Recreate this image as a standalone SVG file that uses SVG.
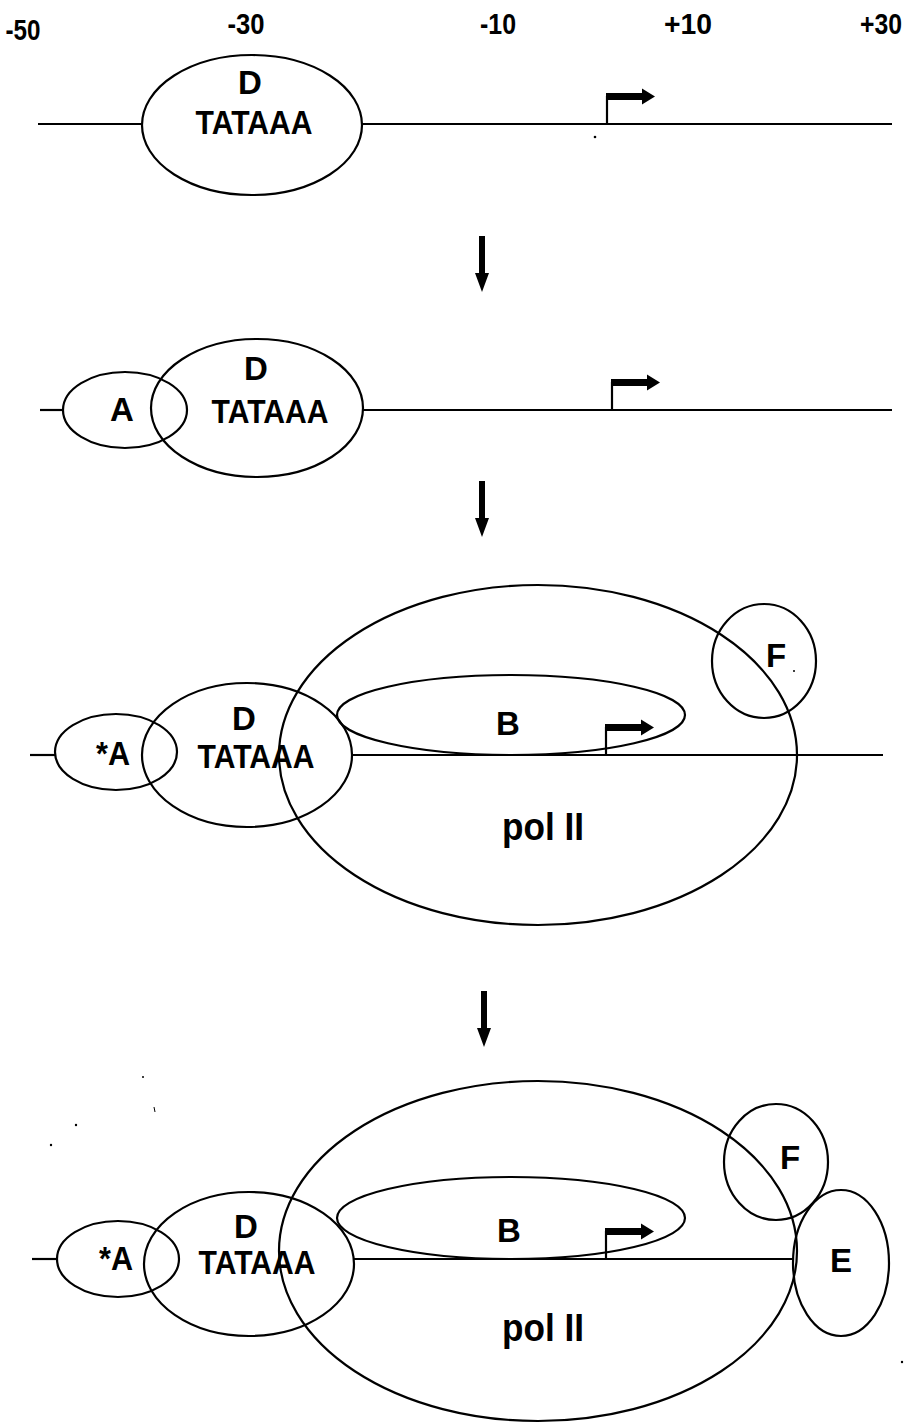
<svg xmlns="http://www.w3.org/2000/svg" xmlns:xlink="http://www.w3.org/1999/xlink" width="909" height="1425" viewBox="0 0 909 1425">
  <style>
    .bg { fill: #ffffff; }
    .dna { stroke: #000; stroke-width: 2.2; fill: none; }
    .factor { stroke: #000; stroke-width: 2.2; fill: none; }
    .lbl { font-family: "Liberation Sans", Arial, sans-serif; font-weight: bold; font-size: 33px; fill: #000; text-anchor: middle; }
    .tata { font-size: 34px; }
    .pol { font-size: 38px; }
    .pos { font-family: "Liberation Sans", Arial, sans-serif; font-weight: bold; font-size: 30px; fill: #000; text-anchor: middle; }
    .speck { fill: #000; }
  </style>
  <defs>
    <!-- transcription start site: bent arrow, origin at the base of the stem -->
    <g id="tss">
      <line x1="0" y1="0" x2="0" y2="-28" stroke="#000" stroke-width="2.2"/>
      <polygon points="-1,-31 35,-31 35,-35.5 48,-27.5 35,-19.5 35,-24 -1,-24" fill="#000"/>
    </g>
    <!-- step arrow, origin at the tip -->
    <polygon id="step" points="-3,-56 3,-56 3,-19 7,-19 0,0 -7,-19 -3,-19" fill="#000"/>
  </defs>

  <rect class="bg" x="0" y="0" width="909" height="1425"/>

  <!-- position scale -->
  <g id="scale">
    <text class="pos" x="23" y="40" textLength="35" lengthAdjust="spacingAndGlyphs">-50</text>
    <text class="pos" x="246" y="34" textLength="37" lengthAdjust="spacingAndGlyphs">-30</text>
    <text class="pos" x="498" y="34" textLength="36" lengthAdjust="spacingAndGlyphs">-10</text>
    <text class="pos" x="688" y="34" textLength="48" lengthAdjust="spacingAndGlyphs">+10</text>
    <text class="pos" x="881" y="34" textLength="42" lengthAdjust="spacingAndGlyphs">+30</text>
  </g>

  <!-- DNA strands, start-site arrows and step arrows -->
  <g id="connectors">
    <line class="dna" x1="38" y1="124" x2="142" y2="124"/>
    <line class="dna" x1="362" y1="124" x2="892" y2="124"/>
    <use xlink:href="#tss" x="607" y="124"/>

    <use xlink:href="#step" x="482" y="292"/>

    <line class="dna" x1="40" y1="410" x2="63" y2="410"/>
    <line class="dna" x1="362" y1="410" x2="892" y2="410"/>
    <use xlink:href="#tss" x="612" y="410"/>

    <use xlink:href="#step" x="482" y="537"/>

    <line class="dna" x1="30" y1="755" x2="55" y2="755"/>
    <line class="dna" x1="352" y1="755" x2="883" y2="755"/>
    <use xlink:href="#tss" x="606" y="755"/>

    <use xlink:href="#step" x="484" y="1047"/>

    <line class="dna" x1="32" y1="1259" x2="57" y2="1259"/>
    <line class="dna" x1="354" y1="1259" x2="793" y2="1259"/>
    <use xlink:href="#tss" x="606" y="1259"/>
  </g>

  <!-- stage 1: TFIID on the TATA box -->
  <g id="s1-D">
    <ellipse class="factor" cx="252" cy="125" rx="110" ry="70"/>
    <text class="lbl" x="250" y="94">D</text>
    <text class="lbl tata" x="254" y="134" textLength="117" lengthAdjust="spacingAndGlyphs">TATAAA</text>
  </g>

  <!-- stage 2: TFIIA joins -->
  <g id="s2-A">
    <ellipse class="factor" cx="125" cy="410" rx="62" ry="38"/>
    <text class="lbl" x="122" y="421">A</text>
  </g>
  <g id="s2-D">
    <ellipse class="factor" cx="257" cy="408" rx="106" ry="69"/>
    <text class="lbl" x="256" y="380">D</text>
    <text class="lbl tata" x="270" y="423" textLength="117" lengthAdjust="spacingAndGlyphs">TATAAA</text>
  </g>

  <!-- stage 3: B, pol II and F -->
  <g id="s3-A">
    <ellipse class="factor" cx="116" cy="752" rx="61" ry="38"/>
    <text class="lbl" x="113" y="765" textLength="34" lengthAdjust="spacingAndGlyphs">*A</text>
  </g>
  <g id="s3-D">
    <ellipse class="factor" cx="247" cy="755" rx="105" ry="72"/>
    <text class="lbl" x="244" y="730">D</text>
    <text class="lbl tata" x="256" y="768" textLength="117" lengthAdjust="spacingAndGlyphs">TATAAA</text>
  </g>
  <g id="s3-pol">
    <ellipse class="factor" cx="538" cy="755" rx="259" ry="170"/>
    <text class="lbl pol" x="543" y="840" textLength="82" lengthAdjust="spacingAndGlyphs">pol II</text>
  </g>
  <g id="s3-B">
    <ellipse class="factor" cx="511" cy="715" rx="174" ry="40"/>
    <text class="lbl" x="508" y="735">B</text>
  </g>
  <g id="s3-F">
    <ellipse class="factor" cx="764" cy="661" rx="52" ry="57"/>
    <text class="lbl" x="776" y="667">F</text>
  </g>

  <!-- stage 4: E completes the complex -->
  <g id="s4-A">
    <ellipse class="factor" cx="118" cy="1259" rx="61" ry="38"/>
    <text class="lbl" x="116" y="1270" textLength="34" lengthAdjust="spacingAndGlyphs">*A</text>
  </g>
  <g id="s4-D">
    <ellipse class="factor" cx="249" cy="1264" rx="105" ry="72"/>
    <text class="lbl" x="246" y="1238">D</text>
    <text class="lbl tata" x="257" y="1274" textLength="117" lengthAdjust="spacingAndGlyphs">TATAAA</text>
  </g>
  <g id="s4-pol">
    <ellipse class="factor" cx="538" cy="1251" rx="259" ry="170"/>
    <text class="lbl pol" x="543" y="1341" textLength="82" lengthAdjust="spacingAndGlyphs">pol II</text>
  </g>
  <g id="s4-B">
    <ellipse class="factor" cx="511" cy="1218" rx="174" ry="41"/>
    <text class="lbl" x="509" y="1242">B</text>
  </g>
  <g id="s4-F">
    <ellipse class="factor" cx="776" cy="1162" rx="52" ry="58"/>
    <text class="lbl" x="790" y="1169">F</text>
  </g>
  <g id="s4-E">
    <ellipse class="factor" cx="841" cy="1263" rx="48" ry="73"/>
    <text class="lbl" x="841" y="1272">E</text>
  </g>

  <!-- small specks -->
  <g id="specks">
    <circle class="speck" cx="595" cy="137" r="1.3"/>
    <circle class="speck" cx="794" cy="671" r="1"/>
    <circle class="speck" cx="143" cy="1077" r="1"/>
    <line x1="154" y1="1107" x2="155" y2="1112" stroke="#000" stroke-width="1"/>
    <circle class="speck" cx="76" cy="1125" r="1.2"/>
    <circle class="speck" cx="51" cy="1145" r="1.2"/>
    <circle class="speck" cx="902" cy="1362" r="1.2"/>
  </g>
</svg>
